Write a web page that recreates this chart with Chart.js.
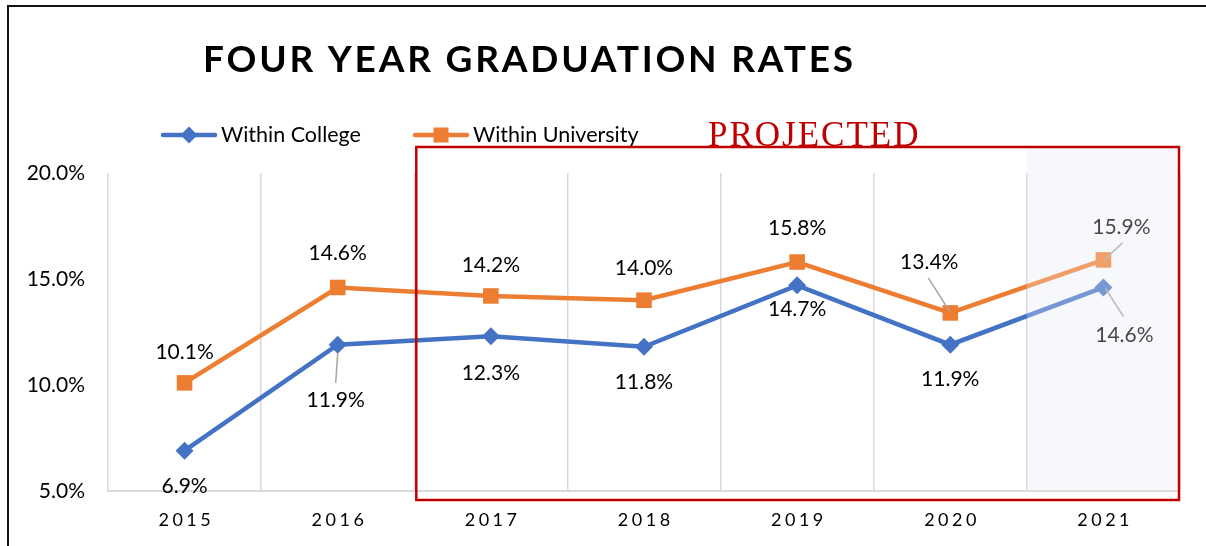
<!DOCTYPE html>
<html><head><meta charset="utf-8">
<script src="https://cdn.jsdelivr.net/npm/chart.js@4/dist/chart.umd.min.js"></script>
<style>html,body{margin:0;padding:0;background:#fff;}canvas{display:block}</style>
</head><body>
<canvas id="c" width="1206" height="546"></canvas>
<script>
// ---- data ----
const categories = ['2015', '2016', '2017', '2018', '2019', '2020', '2021'];
const withinCollege = [6.9, 11.9, 12.3, 11.8, 14.7, 11.9, 14.6];
const withinUniversity = [10.1, 14.6, 14.2, 14.0, 15.8, 13.4, 15.9];
const yTicks = [5, 10, 15, 20];
const seriesNames = ['Within College', 'Within University'];
const titleText = 'FOUR YEAR GRADUATION RATES';
const projectedText = 'PROJECTED';
const projectedFrom = '2017';
const shadedCategory = '2021';

// ---- style ----
const BLUE = '#4472c4', ORANGE = '#ed7d31', RED = '#c00000', GRID = '#d9d9d9';
const FONT = 'Lato, "Open Sans", sans-serif';
// label offsets (px) relative to each point, and optional leader lines [x1,y1,x2,y2] relative to point
const labelStyle = {
  college: {
    off: [[0, 36], [-2, 56], [0, 37], [0, 35], [0, 24], [0, 35], [21, 48]],
    lead: {1: [0, 8, -2, 38], 6: [2, 1, 20, 29]}
  },
  university: {
    off: [[0, -31], [0, -34], [0, -31], [0, -32], [0, -34], [-21, -51], [18, -33]],
    lead: {5: [-1, -2, -22, -35], 6: [1, 0, 19, -17]}
  }
};

function drawDiamond(ctx, x, y, r, color) {
  ctx.beginPath();
  ctx.moveTo(x, y - r); ctx.lineTo(x + r, y); ctx.lineTo(x, y + r); ctx.lineTo(x - r, y);
  ctx.closePath(); ctx.fillStyle = color; ctx.fill();
}
function drawSquare(ctx, x, y, h, color) {
  ctx.fillStyle = color; ctx.fillRect(x - h, y - h, 2 * h, 2 * h);
}

const deco = {
  id: 'deco',
  beforeDraw(chart) {
    const ctx = chart.ctx, ca = chart.chartArea, xs = chart.scales.x;
    ctx.save();
    ctx.fillStyle = '#fff'; ctx.fillRect(0, 0, chart.width, chart.height);
    // outer frame
    ctx.strokeStyle = '#111'; ctx.lineWidth = 2;
    ctx.beginPath(); ctx.moveTo(8, chart.height); ctx.lineTo(8, 6); ctx.lineTo(chart.width, 6); ctx.stroke();
    // shaded projected-last-year band
    const i = categories.indexOf(shadedCategory);
    const l = xs.getPixelForValue(i - 0.5);
    ctx.fillStyle = '#f7f8fc';
    ctx.fillRect(l, ca.top - 25, ca.right - 2 - l, ca.bottom - (ca.top - 25));
    ctx.restore();
  },
  afterDatasetsDraw(chart) {
    const ctx = chart.ctx, ca = chart.chartArea, xs = chart.scales.x, ys = chart.scales.y;
    ctx.save();
    // data labels
    const sets = [['college', withinCollege], ['university', withinUniversity]];
    ctx.font = '21px ' + FONT;
    ctx.textAlign = 'center'; ctx.textBaseline = 'middle';
    sets.forEach(([key, vals]) => {
      const st = labelStyle[key];
      vals.forEach((v, i) => {
        const px = xs.getPixelForValue(i), py = ys.getPixelForValue(v);
        const ld = st.lead[i];
        if (ld) {
          ctx.strokeStyle = '#a6a6a6'; ctx.lineWidth = 1.5;
          ctx.beginPath(); ctx.moveTo(px + ld[0], py + ld[1]); ctx.lineTo(px + ld[2], py + ld[3]); ctx.stroke();
        }
        ctx.fillStyle = '#000';
        ctx.fillText(v.toFixed(1) + '%', px + st.off[i][0], py + st.off[i][1]);
      });
    });
    // whitish veil over the last (projected) category
    const si = categories.indexOf(shadedCategory);
    const l = xs.getPixelForValue(si - 0.5);
    ctx.fillStyle = 'rgba(247,248,252,0.28)';
    ctx.fillRect(l, ca.top - 25, ca.right - 2 - l, ca.bottom - (ca.top - 25));
    // red projected box
    const pi = categories.indexOf(projectedFrom);
    const bl = xs.getPixelForValue(pi - 0.5) + 2;
    ctx.strokeStyle = RED; ctx.lineWidth = 2.5;
    ctx.strokeRect(bl, ca.top - 26, ca.right - 1 - bl, ca.bottom + 9 - (ca.top - 26));
    // PROJECTED text
    ctx.fillStyle = RED; ctx.textAlign = 'left'; ctx.textBaseline = 'alphabetic';
    ctx.font = '35px "Liberation Serif", "DejaVu Serif", serif';
    ctx.letterSpacing = '2px';
    ctx.fillText(projectedText, 708, 146);
    // x tick labels (letter-spaced)
    ctx.fillStyle = '#000'; ctx.font = '18px ' + FONT; ctx.letterSpacing = '3.5px';
    ctx.textAlign = 'center'; ctx.textBaseline = 'middle';
    categories.forEach((c, i) => ctx.fillText(c, xs.getPixelForValue(i) + 1.75, ca.bottom + 29));
    // title
    ctx.font = 'bold 37px ' + FONT; ctx.letterSpacing = '0px';
    const w0 = ctx.measureText(titleText).width;
    const sp = (650 - w0) / (titleText.length - 1);
    ctx.letterSpacing = sp + 'px';
    ctx.textAlign = 'left'; ctx.textBaseline = 'alphabetic';
    ctx.fillText(titleText, 203, 72);
    ctx.letterSpacing = '0px';
    // legend
    const ly = 135;
    ctx.lineWidth = 4.5; ctx.lineCap = 'round';
    ctx.strokeStyle = BLUE; ctx.beginPath(); ctx.moveTo(163, ly); ctx.lineTo(215, ly); ctx.stroke();
    drawDiamond(ctx, 189, ly, 8.5, BLUE);
    ctx.strokeStyle = ORANGE; ctx.beginPath(); ctx.moveTo(415, ly); ctx.lineTo(467, ly); ctx.stroke();
    drawSquare(ctx, 441, ly, 7.5, ORANGE);
    ctx.fillStyle = '#000'; ctx.font = '21.5px ' + FONT; ctx.textBaseline = 'middle';
    ctx.fillText(seriesNames[0], 221, ly);
    ctx.fillText(seriesNames[1], 473, ly);
    ctx.restore();
  }
};

new Chart(document.getElementById('c'), {
  type: 'line',
  data: {
    labels: categories,
    datasets: [
      { label: seriesNames[0], data: withinCollege, borderColor: BLUE, backgroundColor: BLUE,
        borderWidth: 4.5, pointStyle: 'rectRot', pointRadius: 9, pointBorderWidth: 0, tension: 0 },
      { label: seriesNames[1], data: withinUniversity, borderColor: ORANGE, backgroundColor: ORANGE,
        borderWidth: 4.5, pointStyle: 'rect', pointRadius: 11, pointBorderWidth: 0, tension: 0 }
    ]
  },
  options: {
    responsive: false, animation: false, devicePixelRatio: 1,
    layout: { padding: { top: 173, right: 26, bottom: 0, left: 0 } },
    plugins: { legend: { display: false }, title: { display: false }, tooltip: { enabled: false } },
    scales: {
      x: {
        type: 'category', offset: true,
        grid: { offset: true, color: GRID, lineWidth: 1.5, drawTicks: false },
        border: { display: true, color: GRID, width: 2 },
        ticks: { display: false },
        afterFit: s => { s.height = 55; }
      },
      y: {
        min: 5, max: 20,
        afterBuildTicks: s => { s.ticks = yTicks.map(v => ({ value: v })); },
        ticks: { callback: v => v.toFixed(1) + '%', color: '#000', font: { family: FONT, size: 21 }, padding: 23 },
        grid: { display: false, drawTicks: false },
        border: { display: false },
        afterFit: s => { s.width = 108; }
      }
    }
  },
  plugins: [deco]
});
</script>
</body></html>
